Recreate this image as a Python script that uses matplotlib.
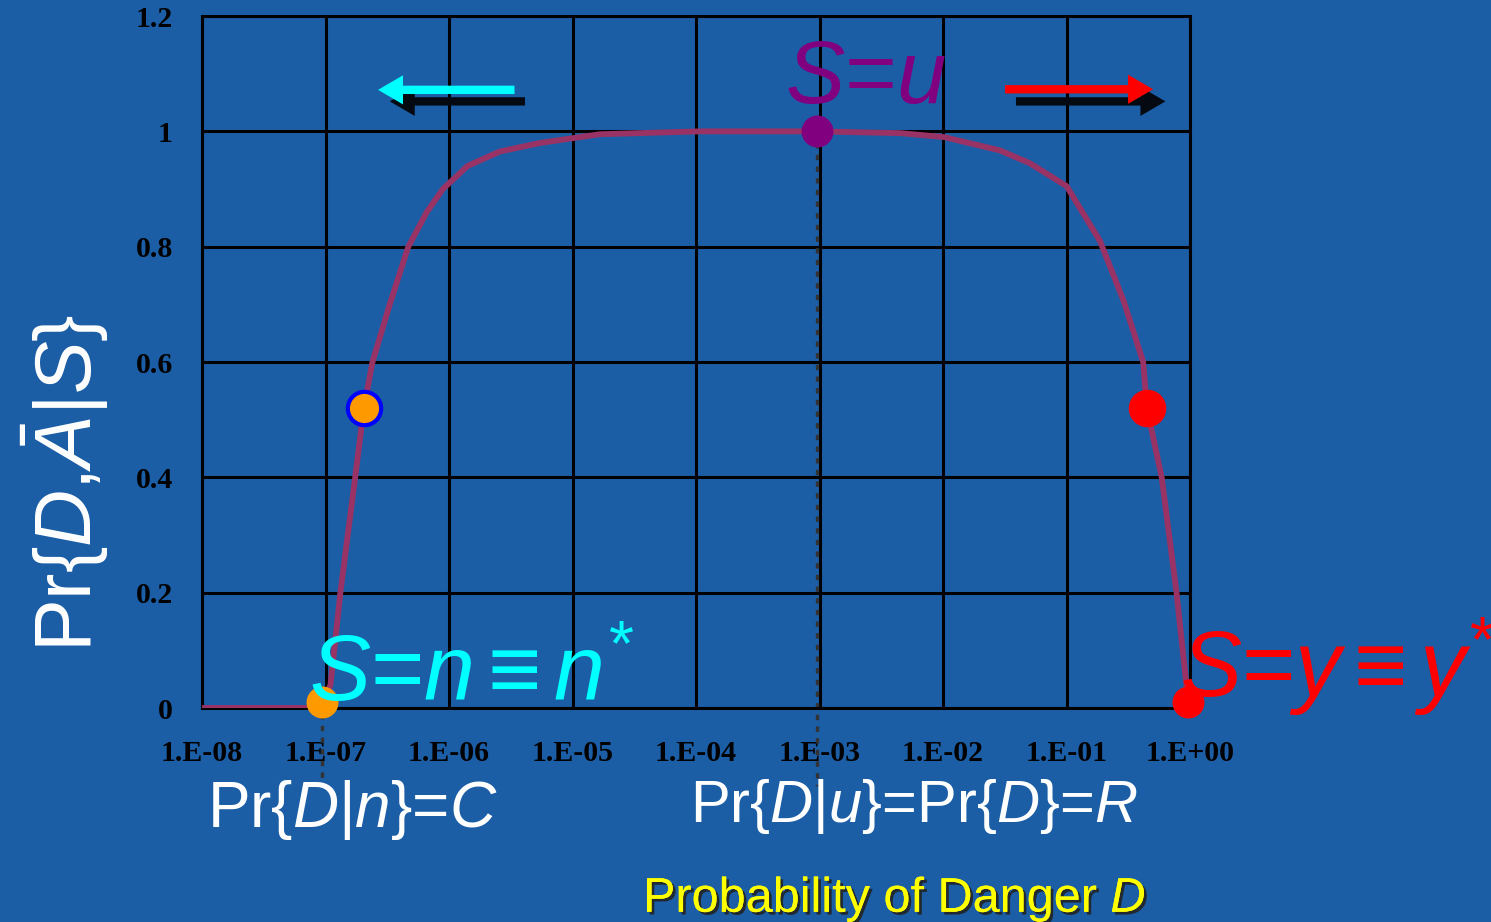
import numpy as np
import matplotlib
matplotlib.use("Agg")
import matplotlib.pyplot as plt
import matplotlib.patheffects as pe

plt.rcParams['mathtext.fontset'] = 'custom'
plt.rcParams['mathtext.rm'] = 'Liberation Sans'
plt.rcParams['mathtext.it'] = 'Liberation Sans:italic'
plt.rcParams['mathtext.bf'] = 'Liberation Sans:bold'
plt.rcParams['font.family'] = ['Liberation Sans', 'DejaVu Sans']

# curve Pr{D, not A | S} against log10 Pr{D}
log_pd = [-8.0, -7.6, -7.13, -7.03, -6.96, -6.88, -6.76, -6.69, -6.62, -6.48,
          -6.33, -6.18, -6.05, -5.85, -5.59, -5.26, -4.78, -3.97, -3.0, -2.6,
          -2.35, -1.99, -1.54, -1.30, -1.0, -0.73, -0.54, -0.38, -0.35, -0.23,
          -0.11, -0.02]
pr_curve = [0.0, 0.0, 0.0, 0.005, 0.04, 0.2, 0.4, 0.52, 0.6, 0.70,
            0.80, 0.86, 0.90, 0.94, 0.965, 0.98, 0.995, 1.0, 1.0, 0.998,
            0.997, 0.99, 0.967, 0.945, 0.905, 0.81, 0.707, 0.60, 0.52, 0.40,
            0.20, 0.02]

# highlighted states
pt_log = [-7.03, -6.69, -3.02, -0.35, -0.02]
pt_pr = [0.01, 0.52, 1.0, 0.52, 0.01]
pt_face = ['#ff9900', '#ff9900', '#800080', '#ff0000', '#ff0000']
pt_edge = ['#ff9900', '#0000ff', '#800080', '#ff0000', '#ff0000']
pt_size = [23, 24, 23, 27, 23]

xtick_vals = [1e-8, 1e-7, 1e-6, 1e-5, 1e-4, 1e-3, 1e-2, 1e-1, 1e0]
xtick_labels = ['1.E-08', '1.E-07', '1.E-06', '1.E-05', '1.E-04',
                '1.E-03', '1.E-02', '1.E-01', '1.E+00']
ytick_vals = [0, 0.2, 0.4, 0.6, 0.8, 1.0, 1.2]
ytick_labels = ['0', '0.2', '0.4', '0.6', '0.8', '1', '1.2']

bg = '#1b5ea6'
fig = plt.figure(figsize=(14.91, 9.22), dpi=100, facecolor=bg)
ax = fig.add_axes([0.1355, 0.2321, 0.6627, 0.7505], facecolor=bg)

x_curve = 10.0 ** np.array(log_pd)
ax.plot(x_curve, pr_curve, color='#993366', lw=4.2, zorder=3, solid_joinstyle='round')

# dotted drops from S=n and S=u down past the axis
for lx, py in [(pt_log[0], pt_pr[0]), (pt_log[2], pt_pr[2])]:
    ax.plot([10 ** lx, 10 ** lx], [py, -0.135], color='#333333', lw=2.4,
            ls=(0, (1.6, 1.9)), clip_on=False, zorder=2)

for lx, py, fc, ec, ms in zip(pt_log, pt_pr, pt_face, pt_edge, pt_size):
    ax.plot(10 ** lx, py, 'o', ms=ms, mfc=fc, mec=ec,
            mew=3 if ec != fc else 0, clip_on=False, zorder=5)

ax.set_xscale('log')
ax.set_xlim(1e-8, 1e0)
ax.set_ylim(0, 1.2)
ax.set_xticks(xtick_vals)
ax.set_xticklabels(xtick_labels)
ax.minorticks_off()
ax.set_yticks(ytick_vals)
ax.set_yticklabels(ytick_labels)
ax.tick_params(length=0, pad=21)
ax.tick_params(axis='x', pad=23)
for lab in ax.get_xticklabels() + ax.get_yticklabels():
    lab.set_fontfamily('Liberation Serif')
    lab.set_fontweight('bold')
    lab.set_fontsize(21.5)
    lab.set_color('black')
ax.grid(True, color='black', lw=2.2)
for sp in ax.spines.values():
    sp.set_color('black')
    sp.set_linewidth(2.2)

# direction arrows
arrows = [((10 ** -6.575, 1.072), (10 ** -5.47, 1.072), '#00ffff'),
          ((10 ** -6.48, 1.052), (10 ** -5.385, 1.052), '#050a12'),
          ((10 ** -0.30, 1.073), (10 ** -1.498, 1.073), '#ff0000'),
          ((10 ** -0.20, 1.052), (10 ** -1.41, 1.052), '#050a12')]
for head, tail, col in arrows[::-1]:
    ax.annotate('', xy=head, xytext=tail,
                arrowprops=dict(arrowstyle='simple,head_length=0.6,head_width=0.7,tail_width=0.2',
                                mutation_scale=30, color=col, lw=0, shrinkA=0, shrinkB=0),
                zorder=4)

# state labels
ax.text(10 ** -3.28, 1.049, r'$S\text{=}u$', color='#800080', fontsize=64,
        va='baseline', ha='left', zorder=6)
ax.text(10 ** -7.13, 0.012, r'$S\text{=}n\,\text{≡}\,n^{*}$', color='#00ffff', fontsize=66,
        va='baseline', ha='left', clip_on=False, zorder=6)
ax.text(10 ** -0.085, 0.019, r'$S\text{=}y\,\text{≡}\,y^{*}$', color='#ff0000', fontsize=66,
        va='baseline', ha='left', clip_on=False, zorder=6)

fig.text(207 / 1491, 1 - 827 / 922, r'$\text{Pr}\{D|n\}\text{=}C$', color='white',
         fontsize=46, va='baseline', ha='left')
fig.text(690 / 1491, 1 - 822 / 922, r'$\text{Pr}\{D|u\}\text{=Pr}\{D\}\text{=}R$',
         color='white', fontsize=43, va='baseline', ha='left')
fig.text(65 / 1491, 1 - 483 / 922, r'$\text{Pr}\{D\text{,}\bar{A}|S\}$', color='white',
         fontsize=57, rotation=90, va='center', ha='center')
fig.text(643 / 1491, 1 - 912 / 922, r'Probability of Danger $D$', color='#ffff00',
         fontsize=35, va='baseline', ha='left',
         path_effects=[pe.withSimplePatchShadow(offset=(2, -2), shadow_rgbFace='#222222', alpha=0.9),
                       pe.Normal()])

fig.savefig('out.png', dpi=100, facecolor=bg)
